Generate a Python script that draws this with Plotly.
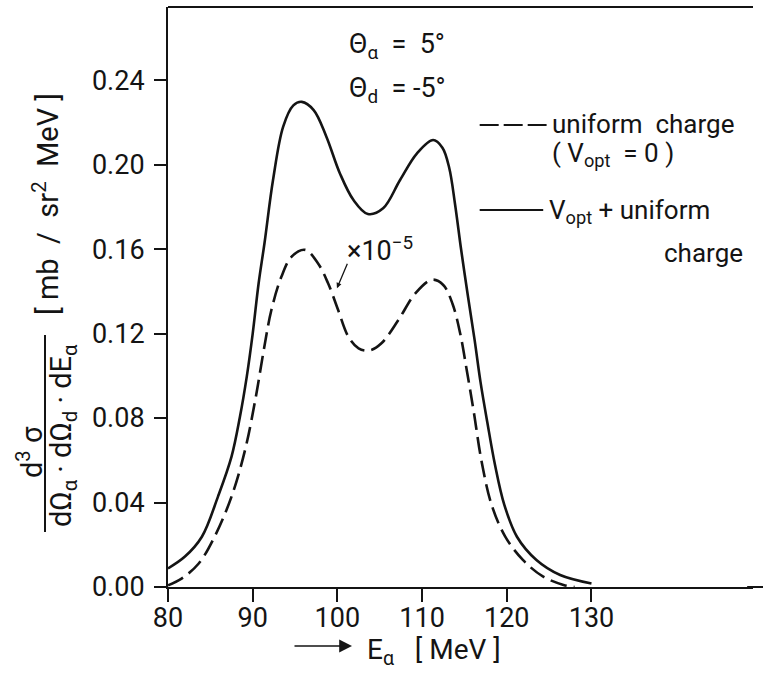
import plotly.graph_objects as go

# ---- data ----
x_solid = [80, 82.0, 84.0, 85.9, 87.5, 88.5, 89.3, 90.0, 90.7, 91.4, 92.4, 93.6, 94.8, 95.8,
           97.2, 98.7, 100.3, 101.9, 103.6, 105.4, 107.4, 109.4, 111.3, 112.4, 113.2, 113.9,
           114.6, 115.4, 116.2, 116.9, 117.7, 118.6, 119.7, 121.2, 123.5, 126.3, 130]
y_solid = [0.0088, 0.0144, 0.0238, 0.0428, 0.0617, 0.0807, 0.0996, 0.120, 0.1438, 0.163,
           0.1927, 0.218, 0.228, 0.2297, 0.2258, 0.2132, 0.1958, 0.1832, 0.1766, 0.1793,
           0.1927, 0.2053, 0.2116, 0.2080, 0.1985, 0.1810, 0.1600, 0.1380, 0.1170, 0.0970,
           0.0780, 0.0580, 0.0390, 0.0238, 0.0128, 0.0057, 0.0017]

x_dash = [80, 81.6, 83.6, 85.5, 87.5, 89.1, 90.3, 91.3, 92.2, 93.4, 94.6, 96.2, 97.7, 98.9,
          100.1, 101.3, 102.5, 103.8, 105.2, 107.2, 109.2, 111.2, 112.5, 113.6, 114.5, 115.3,
          116.1, 117.0, 118.2, 119.8, 121.9, 124.3, 126.7, 128]
y_dash = [0.0008, 0.004, 0.011, 0.0238, 0.0428, 0.0649, 0.0885, 0.112, 0.131, 0.147, 0.1564,
          0.1596, 0.1533, 0.1438, 0.131, 0.1185, 0.113, 0.112, 0.1154, 0.1264, 0.139, 0.1455,
          0.1430, 0.1340, 0.1200, 0.1020, 0.0830, 0.0600, 0.0390, 0.0240, 0.0128, 0.0049, 0.001, 0.0]

x_ticks = [80, 90, 100, 110, 120, 130]
y_ticks = [0.00, 0.04, 0.08, 0.12, 0.16, 0.20, 0.24]

FONT = "Roboto"
INK = "#141414"

fig = go.Figure()
fig.add_trace(go.Scatter(x=x_solid, y=y_solid, mode="lines", line=dict(color=INK, width=2.6, shape="spline", smoothing=1.0), showlegend=False, hoverinfo="skip"))
fig.add_trace(go.Scatter(x=x_dash, y=y_dash, mode="lines", line=dict(color=INK, width=2.6, shape="spline", smoothing=1.0, dash="17px,7px"), showlegend=False, hoverinfo="skip"))

fig.update_layout(
    width=763, height=679,
    margin=dict(l=168, r=10, t=7, b=92),
    paper_bgcolor="white", plot_bgcolor="white",
    font=dict(family=FONT, color=INK, size=26),
    showlegend=False,
)
fig.update_xaxes(range=[80, 149.07], tickvals=x_ticks, ticktext=[str(v) for v in x_ticks],
                 ticks="outside", ticklen=13, tickwidth=2, tickcolor=INK,
                 showline=True, linecolor=INK, linewidth=2, showgrid=False, zeroline=False,
                 tickfont=dict(size=27), ticklabelstandoff=-7)
fig.update_yaxes(range=[0, 0.2746], tickvals=y_ticks, ticktext=[f"{v:.2f}" for v in y_ticks],
                 ticks="outside", ticklen=12, tickwidth=2, tickcolor=INK,
                 showline=True, linecolor=INK, linewidth=2, showgrid=False, zeroline=False,
                 tickfont=dict(size=27), ticklabelstandoff=4)

shapes = []
# top frame line and extension of the bottom axis
shapes.append(dict(type="line", xref="paper", yref="paper", x0=0, x1=1.0, y0=1, y1=1, line=dict(color=INK, width=2)))
shapes.append(dict(type="line", xref="paper", yref="paper", x0=0.99, x1=1.02, y0=0, y1=0, line=dict(color=INK, width=2)))
# legend samples
shapes.append(dict(type="line", xref="x", yref="y", x0=116.8, x1=124.7, y0=0.2187, y1=0.2187, line=dict(color=INK, width=2, dash="19px,5px")))
shapes.append(dict(type="line", xref="x", yref="y", x0=116.8, x1=124.3, y0=0.1785, y1=0.1785, line=dict(color=INK, width=2)))
# fraction bar of y title
shapes.append(dict(type="line", xref="paper", yref="paper", x0=(45 - 168) / 585, x1=(45 - 168) / 585,
                   y0=(587 - 532) / 580, y1=(587 - 335) / 580, line=dict(color=INK, width=2)))
fig.update_layout(shapes=shapes)

ann = []
def txt(x, y, t, xref="x", yref="y", xa="left", ya="middle", size=26, angle=0):
    ann.append(dict(x=x, y=y, xref=xref, yref=yref, text=t, showarrow=False, xanchor=xa, yanchor=ya,
                    textangle=angle, font=dict(size=size, family=FONT, color=INK)))

txt(101.1, 0.256, "Θ<sub>α</sub>  =  5°", size=27)
txt(101.1, 0.2355, "Θ<sub>d</sub>  = -5°", size=27)
txt(125.1, 0.2192, "uniform  charge")
txt(125.1, 0.2050, "( V<sub>opt</sub>  = 0 )")
txt(124.75, 0.1778, "V<sub>opt</sub> + uniform")
txt(138.3, 0.1581, "charge")
txt(100.9, 0.1600, "×10<sup>−5</sup>", size=27)
ann.append(dict(x=99.95, y=0.1415, xref="x", yref="y", ax=11, ay=-26, text="", showarrow=True,
                arrowhead=2, arrowsize=0.8, arrowwidth=1.3, arrowcolor=INK))

# y-axis title
txt((46 - 168) / 585, (587 - 204) / 580, "[ mb  /  sr<sup>2</sup>  MeV ]", xref="paper", yref="paper", xa="center", angle=-90, size=29)
txt((30 - 168) / 585, (587 - 452) / 580, "d<sup>3</sup> σ", xref="paper", yref="paper", xa="center", angle=-90, size=29)
txt((63 - 168) / 585, (587 - 436) / 580, "dΩ<sub>α</sub> · dΩ<sub>d</sub> · dE<sub>α</sub>", xref="paper", yref="paper", xa="center", angle=-90, size=29)

# x-axis title with arrow
txt((365 - 168) / 585, (587 - 651) / 580, "E<sub>α</sub>   [ MeV ]", xref="paper", yref="paper", size=28)
ann.append(dict(x=(352 - 168) / 585, y=(587 - 646) / 580, xref="paper", yref="paper", ax=-59, ay=0,
                text="", showarrow=True, arrowhead=2, arrowsize=1.6, arrowwidth=1.6, arrowcolor=INK))

fig.update_layout(annotations=ann)
fig.write_html("out.html")
